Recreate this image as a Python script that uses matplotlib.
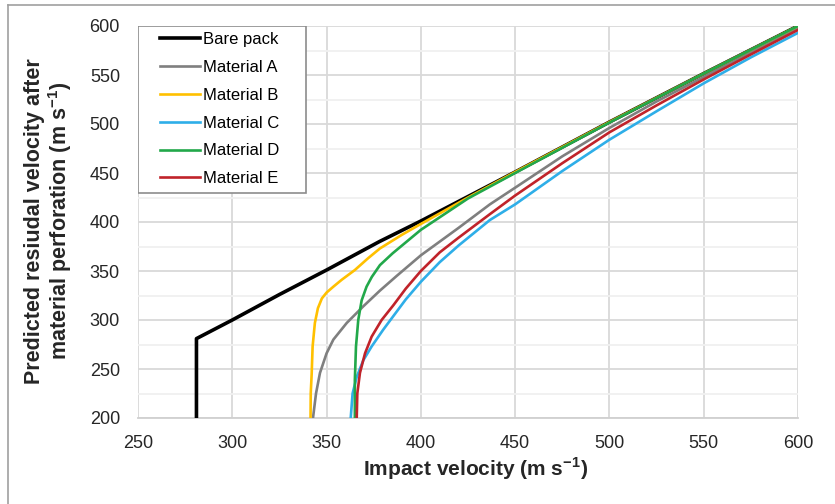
import matplotlib
matplotlib.use("Agg")
import matplotlib.pyplot as plt
from matplotlib.patches import Rectangle
from matplotlib.lines import Line2D
from matplotlib.ticker import MultipleLocator

plt.rcParams['font.family'] = ['Liberation Sans', 'DejaVu Sans']
plt.rcParams['mathtext.fontset'] = 'custom'
plt.rcParams['mathtext.rm'] = 'Liberation Sans'
plt.rcParams['mathtext.bf'] = 'Liberation Sans:bold'

# values (impact velocity -> residual velocity)
bare_x = [281, 281, 300, 325, 350, 378, 400, 425, 450, 500, 550, 600]
bare_y = [200, 281, 300, 326, 351, 380, 401, 426, 451, 502, 551.5, 600]

mat_a_x = [342.8, 344.4, 346.5, 350, 353.6, 360.7, 369.5, 378.3, 387.2, 400, 420, 436.6, 450, 475, 500, 525, 550, 575, 600]
mat_a_y = [200, 225, 246, 266, 280, 297, 314, 330, 345, 366, 394, 418, 435, 467, 496, 523, 548, 573, 598]

mat_b_x = [341.5, 341.6, 342.1, 342.6, 343.8, 345.4, 347.5, 350, 353.6, 358, 365, 372, 378.3, 390, 400, 425, 450, 500, 550, 600]
mat_b_y = [200, 225, 245, 273, 297, 312, 322, 328, 334, 341, 351, 363, 373, 387, 398, 425, 451, 502, 551.5, 600]

mat_c_x = [362.8, 363.8, 366, 369.5, 373.9, 380, 385.8, 392, 400, 410, 420, 436.6, 450, 475, 500, 525, 550, 575, 600]
mat_c_y = [200, 225, 242, 259, 273, 290, 305, 321, 339, 359, 376, 402, 418, 452, 484, 513, 541.5, 568, 593]

mat_d_x = [365, 365, 365.6, 366.8, 368.6, 371.2, 374, 378.3, 385, 400, 425, 450, 500, 550, 600]
mat_d_y = [200, 239, 273, 300, 320, 334, 344, 356, 368, 392, 424, 450, 501.5, 551.5, 600]

mat_e_x = [366, 366.3, 367.7, 370.4, 373.9, 379.2, 385.4, 392, 400, 410, 420, 436.6, 450, 475, 500, 525, 550, 575, 600]
mat_e_y = [201, 225, 246, 266, 283, 300, 315, 332, 350, 369, 384, 408, 427, 460, 491.5, 519, 545.5, 571, 596]

labels = ["Bare pack", "Material A", "Material B", "Material C", "Material D", "Material E"]
colors = ["#000000", "#7f7f7f", "#ffc000", "#2eaee8", "#22a84a", "#c0232a"]
widths = [2.6, 1.9, 1.9, 1.9, 1.9, 1.9]

xticks = [250, 300, 350, 400, 450, 500, 550, 600]
yticks = [200, 250, 300, 350, 400, 450, 500, 550, 600]

W, H = 835, 504
fig = plt.figure(figsize=(W / 100, H / 100), dpi=100)
ax = fig.add_axes([138 / W, 1 - 418 / H, 660 / W, 392 / H])

series = [(bare_x, bare_y), (mat_a_x, mat_a_y), (mat_b_x, mat_b_y),
          (mat_c_x, mat_c_y), (mat_d_x, mat_d_y), (mat_e_x, mat_e_y)]
handles = []
for (xs, ys), lab, col, lw in zip(series, labels, colors, widths):
    h, = ax.plot(xs, ys, color=col, lw=lw, label=lab, zorder=3,
                 solid_joinstyle='round')
    handles.append(h)

ax.set_xlim(250, 600)
ax.set_ylim(200, 600)
ax.set_xticks(xticks)
ax.set_yticks(yticks)
ax.yaxis.set_minor_locator(MultipleLocator(25))
ax.grid(True, which='major', color='#d9d9d9', lw=1.3, zorder=0)
ax.grid(True, which='minor', axis='y', color='#f0f0f0', lw=1.3, zorder=0)
ax.set_axisbelow(True)
for s in ['top', 'right', 'left']:
    ax.spines[s].set_visible(False)
ax.spines['bottom'].set_color('#d0d0d0')
ax.spines['bottom'].set_linewidth(1.3)
ax.tick_params(which='both', length=0, labelsize=13, colors='#262626')
ax.tick_params(axis='y', pad=13)
ax.tick_params(axis='x', pad=12)

# legend box (drawn separately to get Excel-like padding)
ax.add_patch(Rectangle((0, 1 - 167 / 392), 168 / 660, 167 / 392,
                       transform=ax.transAxes, facecolor='white',
                       edgecolor='#8c8c8c', lw=1.2, zorder=4))
leg = ax.legend(handles=handles, loc='upper left',
                bbox_to_anchor=(22 / 660, 1 - 6 / 392),
                borderaxespad=0, borderpad=0, frameon=False, fontsize=12,
                handlelength=2.4, handletextpad=0.2, labelspacing=0.77)
leg.set_zorder(5)

fig.text(476 / W, 1 - 469 / H, "Impact velocity (m s$^{\\mathbf{-1}}$)",
         ha='center', va='center', fontsize=15, fontweight='bold',
         color='#262626')
fig.text(49 / W, 1 - 221 / H,
         "Predicted resiudal velocity after\nmaterial perforation (m s$^{\\mathbf{-1}}$)",
         ha='center', va='center', rotation=90, fontsize=15.5, fontweight='bold',
         color='#262626', linespacing=1.1, multialignment='center')

# outer chart border (left and top edges visible in the reference)
fig.add_artist(Line2D([8 / W, 8 / W], [0, 1 - 5 / H], transform=fig.transFigure,
                      color='#a0a0a0', lw=1.2))
fig.add_artist(Line2D([8 / W, 1], [1 - 5 / H, 1 - 5 / H], transform=fig.transFigure,
                      color='#a0a0a0', lw=1.2))

fig.savefig("out.png", dpi=100)
